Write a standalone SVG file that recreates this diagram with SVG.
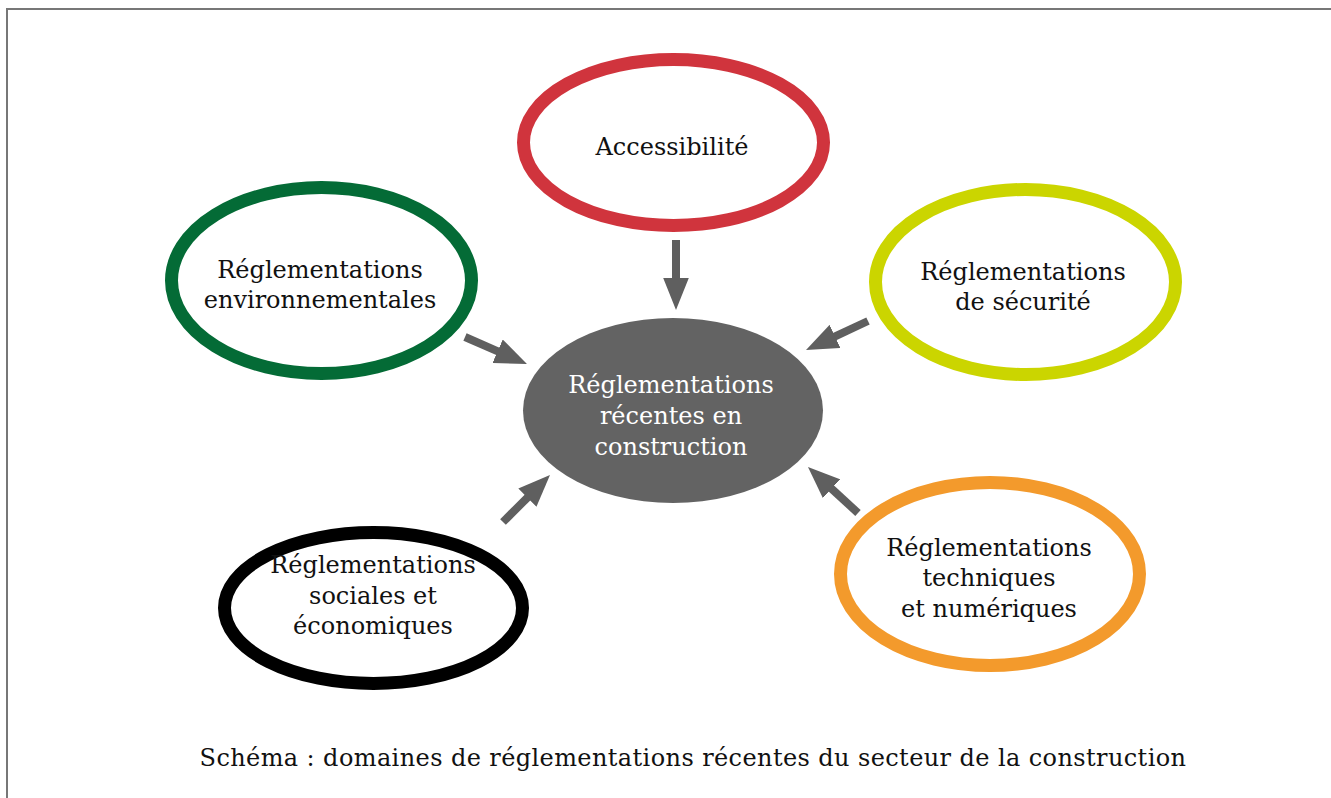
<svg xmlns="http://www.w3.org/2000/svg" width="1331" height="798" viewBox="0 0 1331 798">
<defs>
<style>
.t{font-family:"Roboto Slab","DejaVu Serif","Liberation Serif",serif;font-size:24px;fill:#111;text-anchor:middle}
.w{fill:#fff}
.ring{fill:#fff;stroke-width:13}
.arr{stroke:#5f5f5f;stroke-width:8;fill:none;marker-end:url(#ah)}
</style>
<marker id="ah" markerUnits="strokeWidth" markerWidth="4" markerHeight="3.2" refX="0.5" refY="1.6" orient="auto">
<path d="M0,0 L4,1.6 L0,3.2 z" fill="#5f5f5f"/>
</marker>
</defs>
<rect x="0" y="0" width="1331" height="798" fill="#fff"/>
<rect x="7" y="9" width="1340" height="800" fill="none" stroke="#777" stroke-width="2"/>
<g id="connectors">
<line class="arr" x1="676" y1="240" x2="676" y2="282"/>
<line class="arr" x1="465" y1="337" x2="501.3" y2="352.8"/>
<line class="arr" x1="868" y1="321" x2="831.4" y2="338.1"/>
<line class="arr" x1="503" y1="522" x2="530.2" y2="494.8"/>
<line class="arr" x1="858" y1="513" x2="828.6" y2="486"/>
</g>
<g id="center">
<ellipse cx="673" cy="410.5" rx="150" ry="92.5" fill="#636363"/>
<text class="t w" x="671" y="393">Réglementations</text>
<text class="t w" x="671" y="424">récentes en</text>
<text class="t w" x="671" y="455">construction</text>
</g>
<g id="accessibilite">
<ellipse class="ring" cx="673.5" cy="142.5" rx="150" ry="83" stroke="#D0343D"/>
<text class="t" x="672" y="155">Accessibilité</text>
</g>
<g id="environnementales">
<ellipse class="ring" cx="321.5" cy="280.5" rx="150" ry="93" stroke="#046B36"/>
<text class="t" x="320" y="278">Réglementations</text>
<text class="t" x="320" y="308">environnementales</text>
</g>
<g id="securite">
<ellipse class="ring" cx="1025.5" cy="282" rx="150" ry="92.5" stroke="#CBD500"/>
<text class="t" x="1023" y="280">Réglementations</text>
<text class="t" x="1023" y="310">de sécurité</text>
</g>
<g id="sociales">
<ellipse class="ring" cx="373.5" cy="608" rx="149" ry="75.5" stroke="#000"/>
<text class="t" x="373" y="573">Réglementations</text>
<text class="t" x="373" y="604">sociales et</text>
<text class="t" x="373" y="634">économiques</text>
</g>
<g id="techniques">
<ellipse class="ring" cx="990" cy="574" rx="149.5" ry="91.5" stroke="#F39A2C"/>
<text class="t" x="989" y="556">Réglementations</text>
<text class="t" x="989" y="586">techniques</text>
<text class="t" x="989" y="617">et numériques</text>
</g>
<g id="caption">
<text class="t" x="693" y="766" style="letter-spacing:0.4px">Schéma : domaines de réglementations récentes du secteur de la construction</text>
</g>
</svg>
